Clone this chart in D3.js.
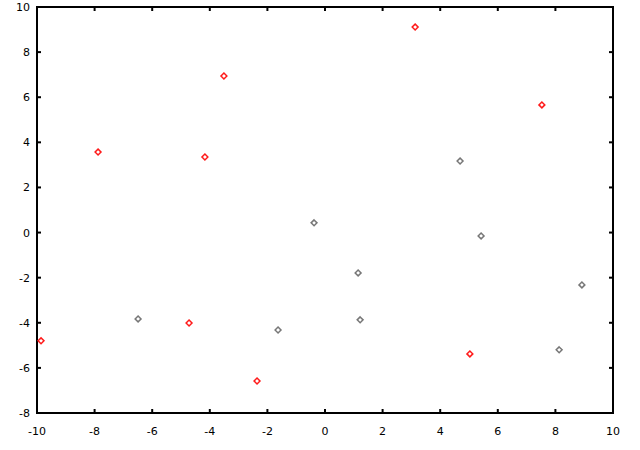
<!DOCTYPE html>
<html>
<head>
  <meta charset="utf-8" />
  <title>Scatter</title>
  <style type="text/css">
    body { margin: 0; background: #fff; }
    text { font-family: 'DejaVu Sans', sans-serif; font-size: 11px; fill: #000; }
  </style>
</head>
<body>
  <div id="graph1"></div>
  <script src="https://d3js.org/d3.v7.min.js"></script>
  <script>
  // first series (red)
  var redX = [-9.86, -7.88, -3.51, -4.17, -4.72, -2.36, 3.13, 7.53, 5.03];
  var redY = [-4.80, 3.57, 6.94, 3.35, -4.01, -6.58, 9.11, 5.66, -5.38];
  // second series (grey)
  var greyX = [-6.49, -1.63, -0.38, 1.15, 1.22, 4.69, 5.42, 8.92, 8.13];
  var greyY = [-3.83, -4.32, 0.43, -1.79, -3.87, 3.17, -0.15, -2.32, -5.20];
  var xTicks = [-10, -8, -6, -4, -2, 0, 2, 4, 6, 8, 10];
  var yTicks = [-8, -6, -4, -2, 0, 2, 4, 6, 8, 10];

  var width = 640, height = 450;
  var margin = {top: 7, right: 27, bottom: 37, left: 37};

  var svg = d3.select('#graph1').append('svg')
    .attr('width', width).attr('height', height);

  var x = d3.scaleLinear().domain([-10, 10]).range([margin.left, width - margin.right]);
  var y = d3.scaleLinear().domain([-8, 10]).range([height - margin.bottom, margin.top]);

  // ticks pointing inward on all four sides
  var tl = 4;
  var g = svg.append('g').attr('stroke', '#000').attr('stroke-width', 2);
  xTicks.forEach(function (t) {
    g.append('line').attr('x1', x(t)).attr('x2', x(t)).attr('y1', y(-8)).attr('y2', y(-8) - tl);
    g.append('line').attr('x1', x(t)).attr('x2', x(t)).attr('y1', y(10)).attr('y2', y(10) + tl);
  });
  yTicks.forEach(function (t) {
    g.append('line').attr('y1', y(t)).attr('y2', y(t)).attr('x1', x(-10)).attr('x2', x(-10) + tl);
    g.append('line').attr('y1', y(t)).attr('y2', y(t)).attr('x1', x(10)).attr('x2', x(10) - tl);
  });

  // frame
  svg.append('rect')
    .attr('x', x(-10)).attr('y', y(10))
    .attr('width', x(10) - x(-10)).attr('height', y(-8) - y(10))
    .attr('fill', 'none').attr('stroke', '#000').attr('stroke-width', 2);

  // tick labels
  svg.selectAll('text.xl').data(xTicks).enter().append('text')
    .attr('class', 'xl')
    .attr('x', function (d) { return x(d); })
    .attr('y', y(-8) + 22)
    .attr('text-anchor', 'middle')
    .text(function (d) { return d; });

  svg.selectAll('text.yl').data(yTicks).enter().append('text')
    .attr('class', 'yl')
    .attr('x', x(-10) - 7)
    .attr('y', function (d) { return y(d) + 4; })
    .attr('text-anchor', 'end')
    .text(function (d) { return d; });

  var diamond = d3.symbol().type(d3.symbolDiamond2).size(22);

  function drawSeries(xs, ys, colour) {
    svg.append('g').selectAll('path')
      .data(xs)
      .enter()
      .append('path')
      .attr('d', diamond)
      .attr('transform', function (d, i) { return 'translate(' + x(d) + ',' + y(ys[i]) + ')'; })
      .attr('fill', 'none')
      .attr('stroke', colour)
      .attr('stroke-width', 1.5);
  }

  drawSeries(redX, redY, '#ff1a1a');
  drawSeries(greyX, greyY, '#777777');
  </script>
</body>
</html>
